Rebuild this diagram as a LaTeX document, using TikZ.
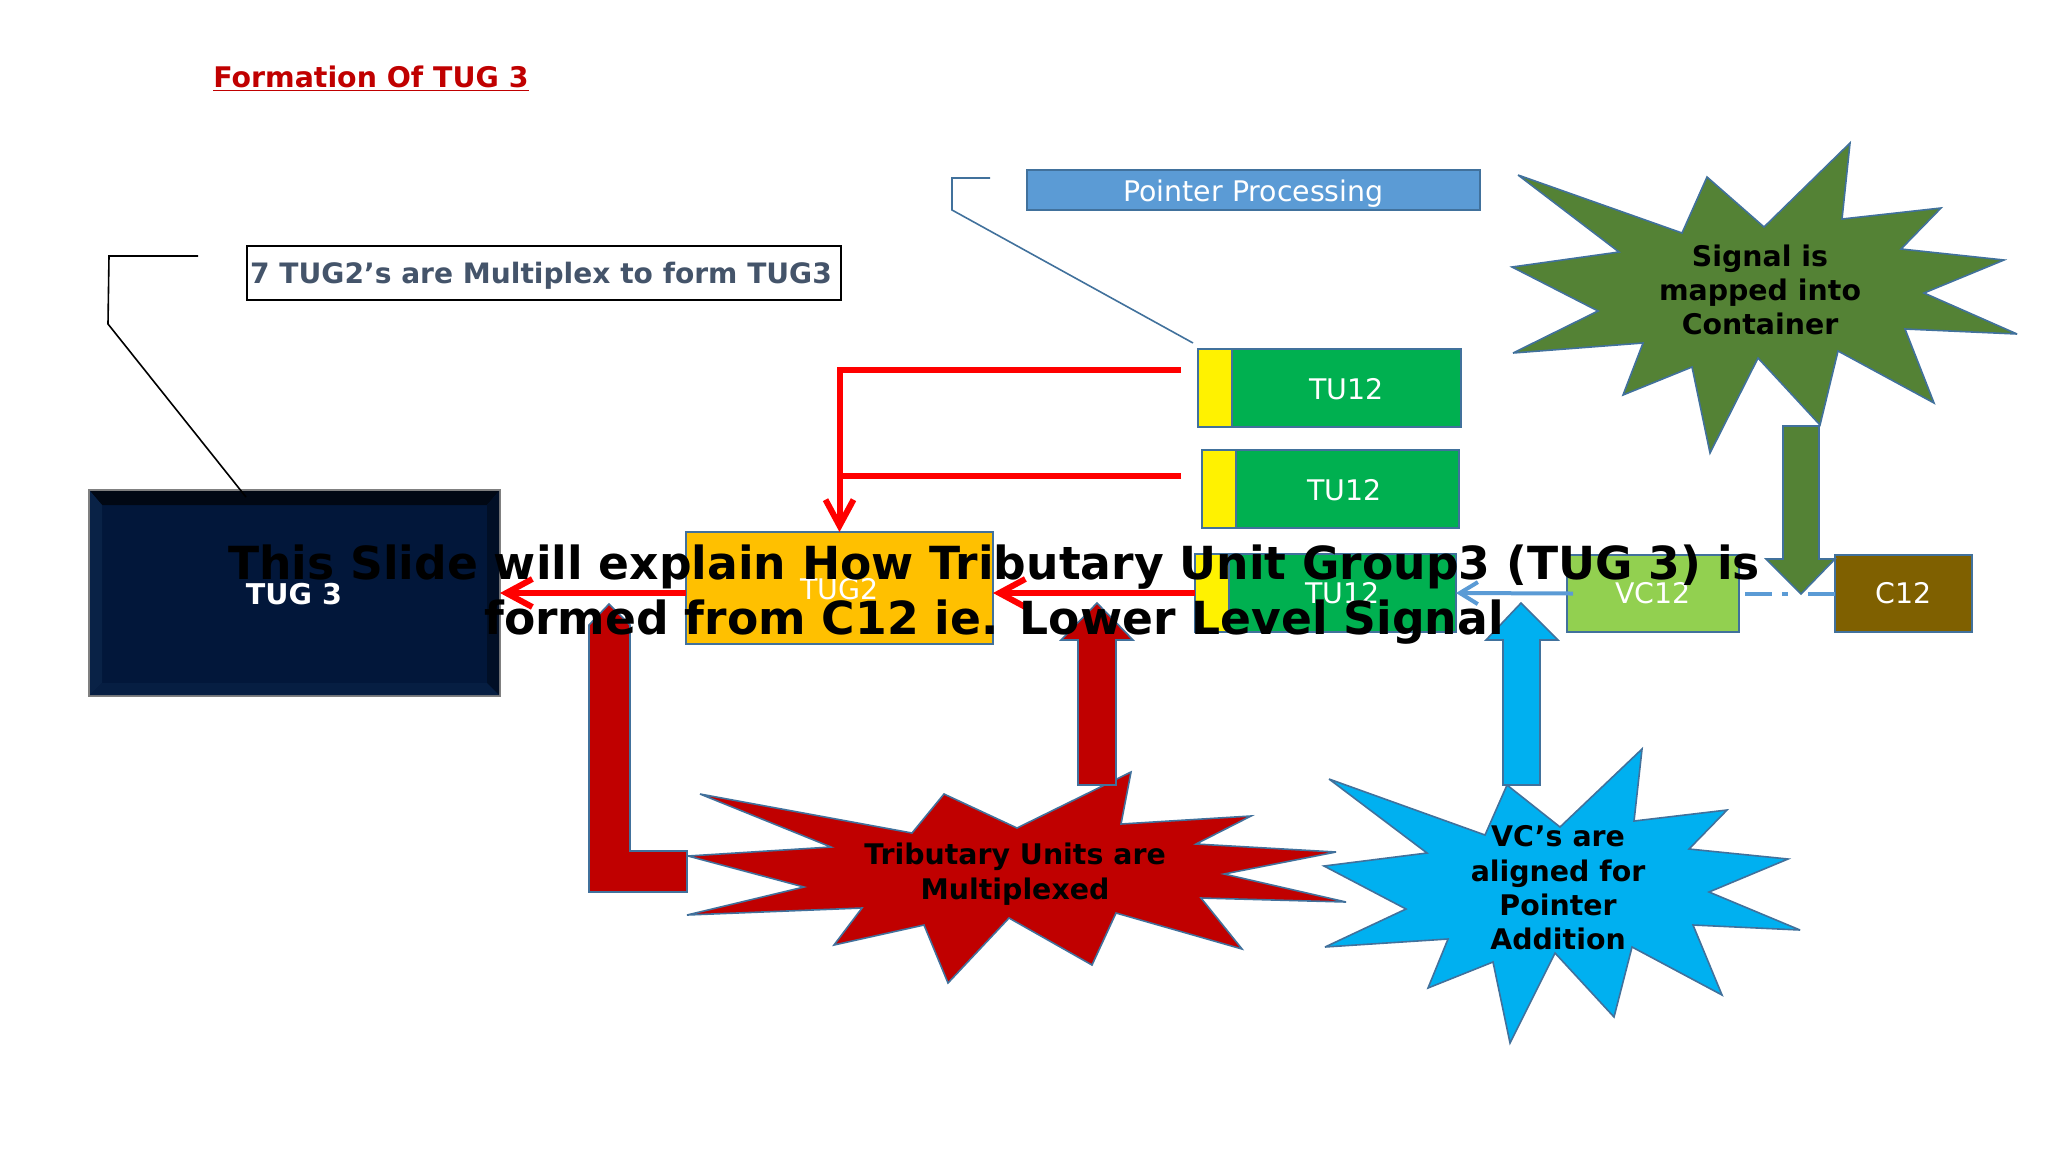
\documentclass[tikz,border=0pt]{standalone}
\usepackage{fontspec}
\setmainfont{DejaVu Sans}
\usetikzlibrary{arrows.meta}
\definecolor{edgeblue}{HTML}{41719C}
\definecolor{tugnavy}{HTML}{02173A}
\definecolor{tugorange}{HTML}{FFC000}
\definecolor{tugreen}{HTML}{00B050}
\definecolor{vcgreen}{HTML}{92D050}
\definecolor{cbrown}{HTML}{7F6000}
\definecolor{ptrblue}{HTML}{5B9BD5}
\definecolor{stargreen}{HTML}{548235}
\definecolor{starred}{HTML}{C00000}
\definecolor{starblue}{HTML}{00B0F0}
\definecolor{labelgray}{HTML}{44546A}
\newcommand{\droptext}[2]{\raisebox{-#1}[\height][\depth]{#2}}
\tikzset{
  sigbox/.style={draw=edgeblue,line width=1pt,inner sep=0,outer sep=0,text=white,
    font=\fontsize{14.2}{16}\selectfont,minimum height=39pt},
  ptrbox/.style={sigbox,fill=yellow,minimum width=17pt},
  burst/.style={draw=edgeblue,line width=0.8pt,line join=miter,miter limit=5},
  bursttext/.style={align=center,inner sep=0,font=\fontsize{14.2}{17.2}\selectfont\bfseries},
  redline/.style={red,line width=3pt},
  redarrow/.style={redline,-{Straight Barb[length=13pt,width=14pt]}},
  blueline/.style={ptrblue,line width=2pt},
}
\begin{document}
\begin{tikzpicture}[x=0.5pt,y=-0.5pt]
  \useasboundingbox (0,0) rectangle (2048,1152);
  % title and the two callouts
  \node[inner sep=0,starred,font=\fontsize{14.2}{16}\selectfont\bfseries] (title) at (371,79)
  {\underline{Formation Of TUG 3}};
  \node[draw=black,line width=1pt,inner sep=0,outer sep=0,minimum width=297pt,minimum height=27pt,
  text=labelgray,font=\fontsize{14.05}{16}\selectfont\bfseries] (mux) at (544,273)
  {\droptext{1.3pt}{7 TUG2’s are Multiplex to form TUG3\kern3pt}};
  \node[sigbox,fill=ptrblue,minimum width=226.5pt,minimum height=20pt] (ptrproc) at (1253.5,190)
  {\droptext{2pt}{Pointer Processing}};
  \coordinate (muxa) at (198,256);
  \coordinate (muxb) at (109,256);
  \coordinate (muxc) at (108,324);
  \coordinate (muxd) at (246,497);
  \coordinate (ptra) at (990,178);
  \coordinate (ptrb) at (952,178);
  \coordinate (ptrc) at (952,210);
  \coordinate (ptrd) at (1193,343);
  \draw[edgeblue,line width=0.8pt] (ptra) -- (ptrb) -- (ptrc) -- (ptrd);
  % boxes
  \node[sigbox,fill=tugnavy,draw=gray,minimum width=205.5pt,minimum height=103pt] (tug3) at (294.5,593) {};
  \fill[black!65!tugnavy] (90,491) -- (499,491) -- (487,505) -- (102,505) -- cycle;
  \fill[tugnavy!92!ptrblue] (90,491) -- (102,505) -- (102,683) -- (90,695) -- cycle;
  \fill[black!35!tugnavy] (499,491) -- (487,505) -- (487,683) -- (499,695) -- cycle;
  \fill[tugnavy!95!ptrblue] (90,695) -- (102,683) -- (487,683) -- (499,695) -- cycle;
  \node[inner sep=0,text=white,font=\fontsize{14.3}{16}\selectfont\bfseries] (tug3txt) at (294,594) {TUG 3};
  \draw[black,line width=0.8pt] (muxa) -- (muxb) -- (muxc) -- (muxd);
  \node[sigbox,fill=tugorange,minimum width=153.5pt,minimum height=56pt] (tug2) at (839.5,588) {\droptext{0.7pt}{TUG2}};
  \node[sigbox,fill=tugreen,minimum width=114.5pt] (tua) at (1346.5,388) {\droptext{0.7pt}{TU12}};
  \node[ptrbox] (ptra1) at (1215,388) {};
  \node[sigbox,fill=tugreen,minimum width=111.5pt] (tub) at (1347.5,489) {\droptext{0.7pt}{TU12\kern3pt}};
  \node[ptrbox] (ptrb1) at (1218.5,489) {};
  \node[sigbox,fill=tugreen,minimum width=113.5pt] (tuc) at (1342.5,593) {TU12};
  \node[ptrbox] (ptrc1) at (1211.5,593) {};
  \node[sigbox,fill=vcgreen,minimum width=86pt,minimum height=38.5pt] (vc12) at (1653,593.5) {VC12};
  \node[sigbox,fill=cbrown,minimum width=68.5pt,minimum height=38.5pt] (c12) at (1903.5,593.5) {C12};
  % signal path
  \coordinate (tualine) at (1181,370);
  \coordinate (tubline) at (1181,476);
  \draw[redarrow] (tualine) -| (tug2.north);
  \draw[redline] (tubline) -- (tug2.north |- tubline);
  \draw[redarrow] (tug3.east -| tug2.west) -- (tug3.east);
  \draw[redarrow] (ptrc1.west) -- (ptrc1.west -| tug2.east);
  \draw[blueline,-{Straight Barb[length=9pt,width=11pt]}] ([xshift=3pt]vc12.west) -- (tuc.east);
  \draw[blueline,dash pattern=on 13.5pt off 5pt on 3pt off 10pt] ([xshift=3pt]vc12.east) -- (c12.west);
  % bursts
  \draw[burst,fill=stargreen] (1850,143) -- (1842,219) -- (1941,208) -- (1901,249) -- (2004,260)
  -- (1924,293) -- (2017,334) -- (1905,329) -- (1934,403) -- (1838,351) -- (1820,425) -- (1758,358)
  -- (1710,453) -- (1692,367) -- (1623,395) -- (1643,343) -- (1513,353) -- (1598,311) -- (1512,267)
  -- (1619,252) -- (1518,175) -- (1682,233) -- (1707,177) -- (1764,227) -- cycle;
  \node[bursttext] (mapped) at (1760,290) {Signal is\\mapped into\\Container};
  \draw[burst,fill=starred] (1131,772) -- (1121,824) -- (1251,816) -- (1196,844) -- (1336,852)
  -- (1224,874) -- (1346,902) -- (1201,898) -- (1242,949) -- (1116,913) -- (1092,965) -- (1009,918)
  -- (948,983) -- (924,925) -- (834,945) -- (862,908) -- (687,915) -- (804,887) -- (688,856)
  -- (831,847) -- (700,794) -- (912,833) -- (944,794) -- (1017,828) -- cycle;
  \node[bursttext] (muxed) at (1015,874) {Tributary Units are\\Multiplexed};
  \draw[burst,fill=starblue] (1642,749) -- (1634,821) -- (1727,810) -- (1689,849) -- (1788,859)
  -- (1709,892) -- (1800,930) -- (1693,925) -- (1722,995) -- (1632,947) -- (1614,1017) -- (1555,953)
  -- (1510,1043) -- (1493,962) -- (1428,988) -- (1448,939) -- (1325,947) -- (1406,909) -- (1324,866)
  -- (1427,853) -- (1329,779) -- (1485,835) -- (1507,785) -- (1560,827) -- cycle;
  \node[bursttext] (aligned) at (1558,888) {VC’s are\\aligned for\\Pointer\\Addition};
  % block arrows
  \draw[burst,fill=stargreen] (1783,426) -- (1819,426) -- (1819,559) -- (1835,559) -- (1801,594)
  -- (1766,559) -- (1783,559) -- cycle;
  \draw[burst,fill=starblue] (1503,785) -- (1540,785) -- (1540,640) -- (1558,640) -- (1521,603)
  -- (1486,640) -- (1503,640) -- cycle;
  \draw[burst,fill=starred] (1078,785) -- (1116,785) -- (1116,640) -- (1133,640) -- (1097,603)
  -- (1061,640) -- (1078,640) -- cycle;
  \draw[burst,fill=starred] (687,851) -- (687,892) -- (589,892) -- (589,625) -- (609,604) -- (630,625)
  -- (630,851) -- cycle;
  % text across the middle
  \node[align=center,inner sep=0,font=\fontsize{22.8}{27.5}\selectfont\bfseries] (slidetxt) at (994,595)
  {This Slide will explain How Tributary Unit Group3 (TUG 3) is\\formed from C12 ie. Lower Level Signal};
\end{tikzpicture}
\end{document}
